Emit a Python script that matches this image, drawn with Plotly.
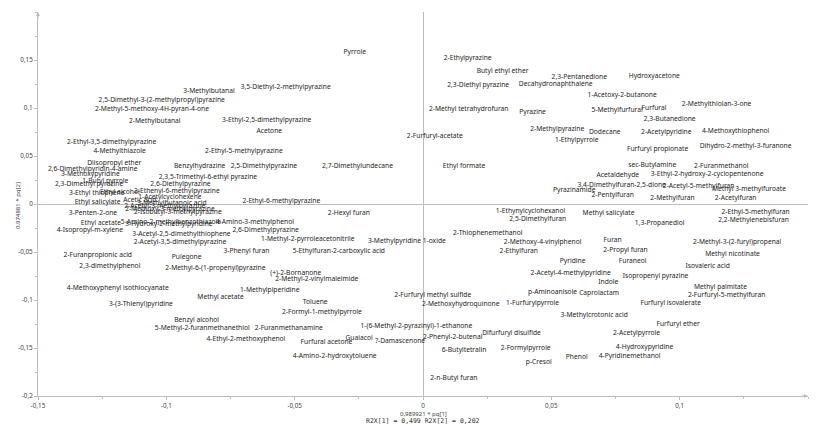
import plotly.graph_objects as go

names = [
    "3-Methylbutanal", "3,5-Diethyl-2-methylpyrazine", "2,5-Dimethyl-3-(2-methylpropyl)pyrazine",
    "2-Methyl-5-methoxy-4H-pyran-4-one", "2-Methylbutanal", "3-Ethyl-2,5-dimethylpyrazine", "Acetone",
    "2-Ethyl-3,5-dimethylpyrazine", "4-Methylthiazole", "2-Ethyl-5-methylpyrazine", "Diisopropyl ether",
    "2,6-Dimethylpyridin-4-amine", "3-Methoxypyridine", "Benzylhydrazine", "2,5-Dimethylpyrazine",
    "2,7-Dimethylundecane", "2,3,5-Trimethyl-6-ethyl pyrazine", "1-Butyl pyrrole", "2,3-Dimethyl pyrazine",
    "2,6-Diethylpyrazine", "3-Ethyl thiophene", "Ethyl alcohol", "2-Ethenyl-6-methylpyrazine",
    "1-Acetylcyclohexene", "Ethyl salicylate", "Acetic acid", "3-Methylbutanoic acid",
    "2-Acetyl-3-methylpyrazine", "2-Methoxy-3-methylpyrazine", "2-Isobutyl-3-methylpyrazine",
    "3-Penten-2-one", "Ethyl acetate", "4-Isopropyl-m-xylene", "5-Amino-2-methylbenzothiazole",
    "3-Hydroxy-2-methylpyridine", "4-Amino-3-methylphenol", "3-Acetyl-2,5-dimethylthiophene",
    "2,6-Dimethylpyrazine", "2-Acetyl-3,5-dimethylpyrazine", "1-Methyl-2-pyrroleacetonitrile",
    "2-Furanpropionic acid", "Pulegone", "3-Phenyl furan", "5-Ethylfuran-2-carboxylic acid",
    "3-Methylpyridine 1-oxide", "2-Hexyl furan", "2-Ethyl-6-methylpyrazine", "2,3-dimethylphenol",
    "2-Methyl-6-(1-propenyl)pyrazine", "(+)-2-Bornanone", "2-Methyl-2-vinylmaleimide",
    "1-Methylpiperidine", "4-Methoxyphenyl isothiocyanate", "Methyl acetate", "3-(3-Thienyl)pyridine",
    "Benzyl alcohol", "5-Methyl-2-furanmethanethiol", "2-Furanmethanamine", "4-Ethyl-2-methoxyphenol",
    "Toluene", "2-Formyl-1-methylpyrrole", "1-(6-Methyl-2-pyrazinyl)-1-ethanone", "Furfural acetone",
    "Guaiacol", "?-Damascenone", "4-Amino-2-hydroxytoluene", "2-Furfuryl methyl sulfide",
    "2-Methoxyhydroquinone", "2-Phenyl-2-butenal", "6-Butyltetralin", "2-n-Butyl furan",
    "Difurfuryl disulfide", "2-Formylpyrrole", "p-Cresol", "1-Furfurylpyrrole", "p-Aminoanisole",
    "Caprolactam", "3-Methylcrotonic acid", "Phenol", "4-Hydroxypyridine", "4-Pyridinemethanol",
    "2-Acetylpyrrole", "Furfuryl ether", "Furfuryl isovalerate", "Methyl palmitate",
    "2-Furfuryl-5-methylfuran", "Indole", "Acetaldehyde", "3-Ethyl-2-hydroxy-2-cyclopentenone",
    "3,4-Dimethylfuran-2,5-dione", "2-Acetyl-5-methylfuran", "Methyl 3-methylfuroate", "Pyrazinamide",
    "2-Pentylfuran", "2-Methylfuran", "2-Acetylfuran", "1-Ethynylcyclohexanol", "2,5-Dimethylfuran",
    "Methyl salicylate", "1,3-Propanediol", "2-Ethyl-5-methylfuran", "2,2-Methylenebisfuran",
    "2-Thiophenemethanol", "2-Methoxy-4-vinylphenol", "Furan", "2-Ethylfuran", "2-Propyl furan",
    "Pyridine", "Furaneol", "2-Acetyl-4-methylpyridine", "Isopropenyl pyrazine",
    "2-Methyl-3-(2-furyl)propenal", "Methyl nicotinate", "Isovaleric acid", "2,3-Pentanedione",
    "Hydroxyacetone", "Decahydronaphthalene", "1-Acetoxy-2-butanone", "5-Methylfurfural", "Furfural",
    "2-Methylthiolan-3-one", "2,3-Butanedione", "2-Methylpyrazine", "Dodecane", "2-Acetylpyridine",
    "4-Methoxythiophenol", "1-Ethylpyrrole", "Furfuryl propionate", "Dihydro-2-methyl-3-furanone",
    "sec-Butylamine", "2-Furanmethanol", "Butyl ethyl ether", "2-Ethylpyrazine", "2,3-Diethyl pyrazine",
    "2-Methyl tetrahydrofuran", "Pyrazine", "2-Furfuryl-acetate", "Ethyl formate", "Pyrrole",
]

pq1 = [
    -0.0834, -0.0535, -0.1018, -0.1056, -0.1045, -0.0609, -0.0599,
    -0.1213, -0.1182, -0.0698, -0.1203, -0.1287, -0.1296, -0.0870, -0.0620,
    -0.0255, -0.0838, -0.1238, -0.1301, -0.0945, -0.1271, -0.1181, -0.0959,
    -0.0986, -0.1268, -0.1103, -0.0979, -0.1006, -0.0986, -0.0955,
    -0.1286, -0.1255, -0.1298, -0.0982, -0.0990, -0.0655, -0.0941,
    -0.0613, -0.0947, -0.0449, -0.1267, -0.0921, -0.0688, -0.0328,
    -0.0063, -0.0289, -0.0552, -0.1220, -0.0809, -0.0496, -0.0414,
    -0.0597, -0.1189, -0.0789, -0.1099, -0.0882, -0.0860, -0.0523, -0.0690,
    -0.0420, -0.0394, -0.0026, -0.0376, -0.0249, -0.0089, -0.0344, 0.0038,
    0.0147, 0.0116, 0.0160, 0.0120, 0.0345, 0.0400, 0.0451, 0.0427, 0.0505,
    0.0686, 0.0667, 0.0599, 0.0863, 0.0805, 0.0832, 0.0994, 0.0965, 0.1159,
    0.1183, 0.0722, 0.0759, 0.1107, 0.0774, 0.1074, 0.1270, 0.0589,
    0.0739, 0.0972, 0.1218, 0.0419, 0.0447, 0.0723, 0.0922, 0.1296, 0.1288,
    0.0252, 0.0466, 0.0739, 0.0373, 0.0789, 0.0583, 0.0817, 0.0575, 0.0906,
    0.1224, 0.1206, 0.1109, 0.0609, 0.0901, 0.0517, 0.0776, 0.0756, 0.0900,
    0.1144, 0.0961, 0.0523, 0.0708, 0.0948, 0.1218, 0.0599, 0.0914, 0.1257,
    0.0893, 0.1162, 0.0310, 0.0174, 0.0215, 0.0178, 0.0427, 0.0046, 0.0160, -0.0266,
]

pq2 = [
    0.1175, 0.1214, 0.1075, 0.0981, 0.0863, 0.0870, 0.0752,
    0.0644, 0.0544, 0.0547, 0.0422, 0.0359, 0.0307, 0.0394, 0.0388,
    0.0388, 0.0281, 0.0238, 0.0203, 0.0203, 0.0106, 0.0123, 0.0127,
    0.0073, 0.0019, 0.0036, 0.0005, -0.0026, -0.0052, -0.0083,
    -0.0102, -0.0206, -0.0273, -0.0196, -0.0214, -0.0188, -0.0318,
    -0.0273, -0.0398, -0.0363, -0.0536, -0.0560, -0.0495, -0.0492,
    -0.0388, -0.0092, 0.0029, -0.0648, -0.0665, -0.0717, -0.0786,
    -0.0901, -0.0877, -0.0974, -0.1044, -0.1210, -0.1300, -0.1290, -0.1406,
    -0.1029, -0.1133, -0.1273, -0.1446, -0.1398, -0.1429, -0.1585, -0.0953,
    -0.1050, -0.1388, -0.1526, -0.1818, -0.1342, -0.1508, -0.1654, -0.1036, -0.0925,
    -0.0932, -0.1161, -0.1592, -0.1498, -0.1585, -0.1342, -0.1255, -0.1036, -0.0863,
    -0.0950, -0.0813, 0.0300, 0.0307, 0.0196, 0.0185, 0.0151, 0.0141,
    0.0089, 0.0054, 0.0060, -0.0075, -0.0161, -0.0102, -0.0206, -0.0085, -0.0169,
    -0.0310, -0.0398, -0.0377, -0.0498, -0.0484, -0.0602, -0.0596, -0.0724, -0.0758,
    -0.0404, -0.0526, -0.0648, 0.1321, 0.1325, 0.1242, 0.1130, 0.0977, 0.0998,
    0.1040, 0.0877, 0.0783, 0.0748, 0.0748, 0.0755, 0.0665, 0.0568, 0.0596,
    0.0404, 0.0394, 0.1383, 0.1516, 0.1238, 0.0984, 0.0960, 0.0706, 0.0394, 0.1585,
]

x_ticks = [-0.15, -0.1, -0.05, 0, 0.05, 0.1]
x_tick_text = ["-0,15", "-0,1", "-0,05", "0", "0,05", "0,1"]
y_ticks = [-0.2, -0.15, -0.1, -0.05, 0, 0.05, 0.1, 0.15]
y_tick_text = ["-0,2", "-0,15", "-0,1", "-0,05", "0", "0,05", "0,1", "0,15"]

x_title = "0,989921 * pq[1]"
y_title = "0,974881 * pq[2]"
r2x_text = "R2X[1] = 0,499 R2X[2] = 0,202"

FONT = "Noto Sans"
AXIS_COLOR = "#bdbdbd"
TEXT_COLOR = "#1e1e1e"

fig = go.Figure()
fig.add_trace(go.Scatter(
    x=pq1, y=pq2, text=names, mode="text",
    textposition="middle center",
    textfont=dict(family=FONT, size=6.7, color=TEXT_COLOR),
    cliponaxis=False, hoverinfo="text", showlegend=False,
))

axis_common = dict(
    showgrid=False, zeroline=True, zerolinecolor=AXIS_COLOR, zerolinewidth=1,
    showline=True, linecolor=AXIS_COLOR, linewidth=1,
    ticks="outside", ticklen=3, tickcolor=AXIS_COLOR,
    tickfont=dict(family=FONT, size=6.3, color="#444444"),
    minor=dict(dtick=0.025, ticks="outside", ticklen=2, tickcolor=AXIS_COLOR),
    automargin=False,
)

fig.update_layout(
    width=826, height=437,
    margin=dict(l=38, r=18, t=12, b=41),
    paper_bgcolor="white", plot_bgcolor="white",
    font=dict(family=FONT, size=7, color=TEXT_COLOR),
    xaxis=dict(range=[-0.15, 0.15], tickmode="array", tickvals=x_ticks, ticktext=x_tick_text,
               **axis_common),
    yaxis=dict(range=[-0.2, 0.2], tickmode="array", tickvals=y_ticks, ticktext=y_tick_text,
               **axis_common),
    annotations=[
        dict(text=y_title, xref="paper", yref="paper", x=0, y=0.495, xshift=-20,
             textangle=-90, showarrow=False, xanchor="center", yanchor="middle",
             font=dict(family=FONT, size=6, color="#444444")),
        dict(text=x_title, xref="paper", yref="paper", x=0.5, y=0, yshift=-12,
             showarrow=False, font=dict(family=FONT, size=6, color="#444444"), yanchor="top"),
        dict(text=r2x_text, xref="paper", yref="paper", x=0.5, y=0, yshift=-19,
             showarrow=False, font=dict(family="DejaVu Sans Mono", size=6.5, color="#333333"), yanchor="top"),
        dict(x=-0.15, y=0.2, xref="x", yref="y", ax=0, ay=8, showarrow=True,
             arrowhead=2, arrowsize=0.8, arrowwidth=1, arrowcolor=AXIS_COLOR, text=""),
        dict(x=0.15, y=-0.2, xref="x", yref="y", ax=-8, ay=0, showarrow=True,
             arrowhead=2, arrowsize=0.8, arrowwidth=1, arrowcolor=AXIS_COLOR, text=""),
    ],
)

fig.write_html("out.html", config={"displayModeBar": False},
               post_script="document.body.style.margin='0';document.body.style.padding='0';")
